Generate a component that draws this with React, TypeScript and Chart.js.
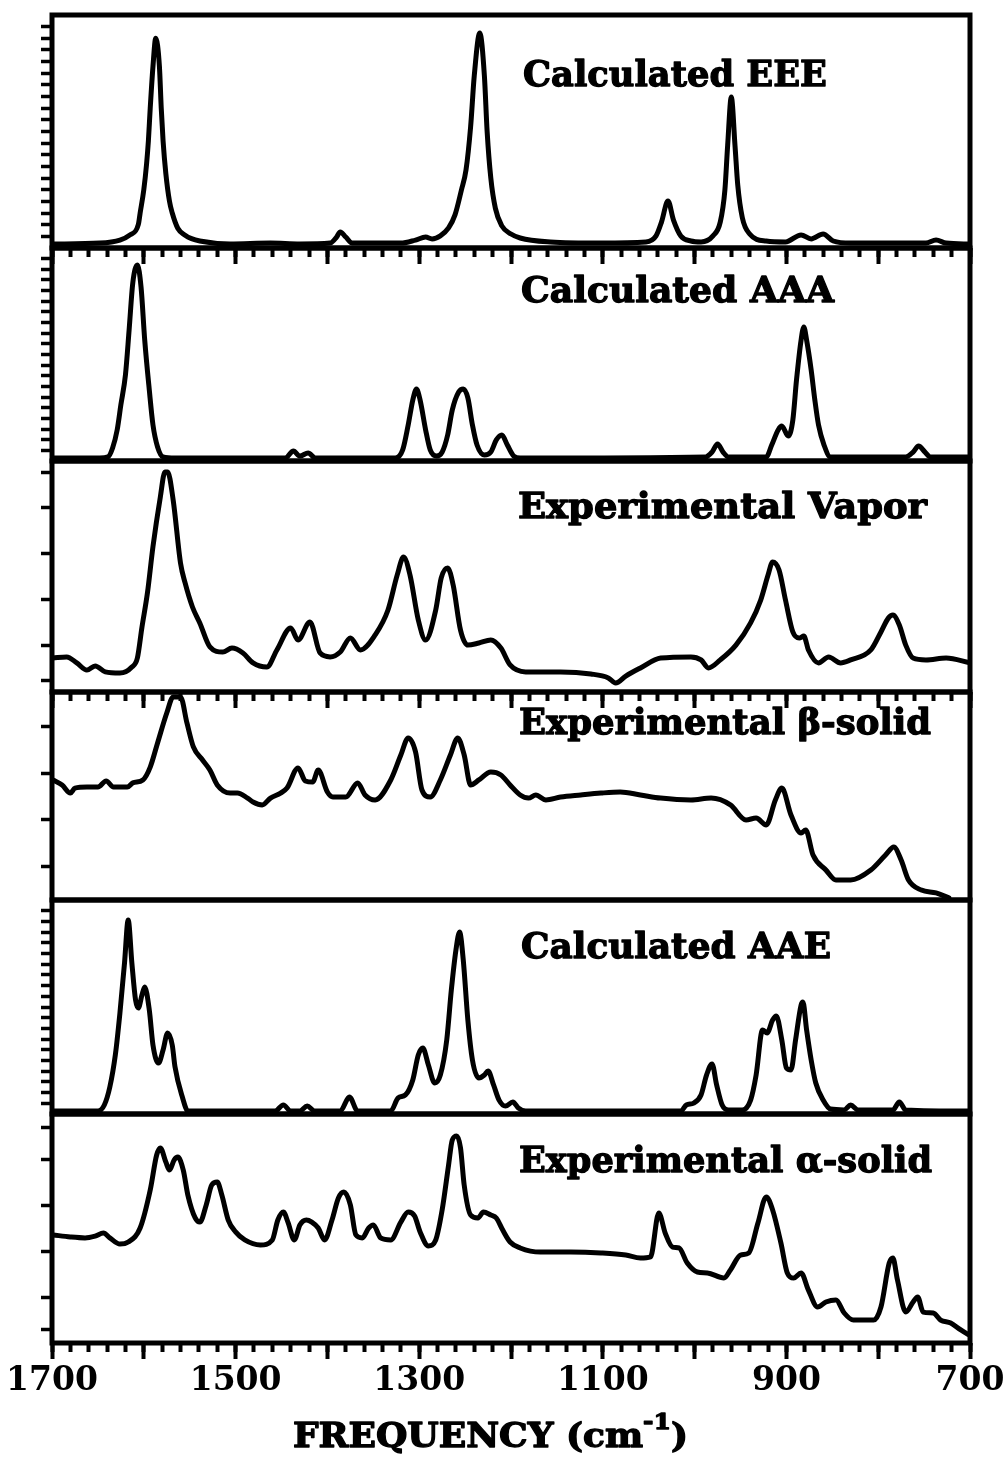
import React, { useEffect, useRef } from 'react';
import { Chart, registerables } from 'chart.js';

Chart.register(...registerables);

// ---------- DATA: [wavenumber (cm-1), relative intensity (% of panel height)] ----------
const eeeSpectrum: [number, number][] = [
  [1700, 1.7], [1648, 2.1], [1626, 3.4], [1615, 5.6], [1606, 10], [1604, 15], [1600, 25], [1597, 36],
  [1595, 46], [1593, 60], [1590, 78], [1587, 90], [1583, 78], [1581, 60], [1579, 46], [1576, 32],
  [1572, 20], [1569, 15], [1563, 8.5], [1555, 5.5], [1548, 4], [1539, 3], [1506, 1.7], [1462, 2.1],
  [1430, 1.7], [1397, 2.1], [1390, 4.7], [1386, 6.9], [1380, 4.7], [1373, 2.1], [1320, 2.1], [1304, 3.4],
  [1293, 4.7], [1286, 3.9], [1277, 5.2], [1268, 8.6], [1261, 14.2], [1254, 24.9], [1249, 33.5], [1244, 52],
  [1240, 74], [1234, 92.3], [1229, 74], [1226, 50], [1222, 30], [1217, 17], [1210, 9.5], [1200, 6],
  [1190, 4.3], [1157, 2.6], [1102, 2.1], [1053, 2.6], [1042, 5.2], [1036, 11.2], [1029, 20.2], [1023, 12],
  [1015, 5.2], [1004, 3], [993, 2.6], [980, 5.2], [972, 11.2], [967, 24.9], [964, 44], [960, 64.8],
  [956, 44], [953, 27], [948, 13], [940, 6], [922, 3], [901, 2.6], [884, 5.6], [873, 3.9],
  [860, 6], [849, 3], [830, 2.1], [748, 2.1], [737, 3.4], [726, 2.1], [700, 1.7],
];

const aaaSpectrum: [number, number][] = [
  [1700, 1.4], [1648, 1.4], [1639, 1.9], [1634, 6.1], [1629, 14.6], [1625, 26.3], [1620, 40.4], [1616, 61.5],
  [1612, 83.6], [1607, 92], [1603, 81.7], [1599, 56.8], [1594, 33.3], [1590, 16.9], [1585, 6.6], [1579, 1.9],
  [1566, 1.4], [1446, 1.4], [1437, 4.7], [1430, 2.3], [1421, 3.8], [1413, 1.4], [1326, 1.4], [1318, 5.2],
  [1312, 16.9], [1307, 28.6], [1303, 33.8], [1299, 28.6], [1293, 14.6], [1288, 5.2], [1281, 2.3], [1275, 4.2],
  [1269, 12.2], [1264, 23.9], [1257, 32.4], [1252, 33.8], [1247, 29.6], [1242, 16.9], [1237, 7.5], [1229, 2.8],
  [1222, 4.2], [1216, 9.9], [1210, 12.2], [1204, 7.5], [1197, 2.3], [1190, 1.4], [988, 1.9], [981, 4.2],
  [975, 8], [969, 4.2], [963, 1.9], [922, 1.9], [916, 7.5], [909, 14.6], [905, 16.4], [898, 11.7],
  [893, 19.2], [889, 38], [884, 56.8], [881, 62.9], [878, 56.8], [873, 42.7], [869, 28.6], [865, 16.9],
  [859, 7.5], [852, 1.9], [770, 1.9], [762, 4.2], [756, 7], [749, 4.2], [743, 1.9], [700, 1.9],
];

const vaporSpectrum: [number, number][] = [
  [1699, 14.7], [1684, 15.2], [1673, 12.6], [1662, 9.5], [1653, 11.3], [1642, 8.7], [1626, 8.2], [1613, 10.8],
  [1607, 14.7], [1602, 28.1], [1596, 43], [1590, 63], [1582, 84.4], [1577, 95.2], [1574, 95.2], [1568, 83.1],
  [1560, 55.8], [1555, 47.2], [1547, 36.8], [1539, 29.9], [1528, 19.5], [1514, 17.3], [1504, 19], [1492, 16.9],
  [1481, 12.6], [1466, 10.8], [1455, 18.2], [1440, 27.7], [1432, 22.5], [1419, 30.3], [1408, 16.9], [1397, 15.2],
  [1386, 17.3], [1375, 23.4], [1364, 18.2], [1348, 24.7], [1334, 35.5], [1324, 50.6], [1317, 58.4], [1310, 50.6],
  [1301, 31.2], [1293, 22.5], [1282, 35.5], [1276, 49.4], [1269, 53.7], [1263, 46.3], [1255, 26.8], [1247, 20.3],
  [1235, 21.2], [1222, 22.5], [1211, 19], [1201, 11.7], [1184, 8.7], [1146, 8.7], [1113, 7.8], [1094, 6.1],
  [1086, 3.9], [1075, 6.9], [1059, 10.4], [1037, 14.7], [1004, 15.2], [993, 13.9], [985, 10.4], [972, 13.9],
  [955, 20.3], [939, 29.9], [928, 39.8], [920, 50.6], [915, 56.3], [908, 52.8], [901, 39.8], [893, 26],
  [886, 23.4], [881, 24.2], [876, 18.2], [865, 12.6], [854, 15.2], [841, 12.6], [830, 13.9], [808, 18.2],
  [797, 26], [789, 32], [784, 33.3], [777, 29], [770, 20.3], [762, 14.7], [748, 13.9], [726, 14.7], [700, 12.6],
];

const betaSpectrum: [number, number][] = [
  [1699, 57.7], [1689, 55.3], [1680, 51.4], [1675, 53.8], [1662, 54.3], [1650, 54.3], [1641, 57.2], [1633, 54.3],
  [1618, 54.3], [1612, 56.3], [1601, 57.7], [1593, 63.9], [1585, 75.5], [1575, 89.9], [1568, 97.6], [1560, 97.6],
  [1553, 85.1], [1546, 73.6], [1536, 67.3], [1528, 62.5], [1520, 55.3], [1506, 51.4], [1498, 51.4], [1487, 49],
  [1481, 47.1], [1471, 45.7], [1462, 49], [1451, 51.4], [1444, 53.8], [1432, 63.5], [1424, 57.2], [1416, 56.7],
  [1410, 62.5], [1400, 51.9], [1394, 49.5], [1380, 49.5], [1367, 56.3], [1359, 50.5], [1348, 48.1], [1331, 57.7],
  [1320, 69.7], [1312, 77.9], [1304, 71.2], [1297, 52.9], [1288, 49.5], [1277, 57.7], [1266, 69.7], [1258, 77.9],
  [1251, 69.7], [1244, 55.3], [1235, 57.7], [1222, 61.5], [1211, 60.1], [1201, 55.3], [1190, 50.5], [1181, 49],
  [1173, 50.5], [1162, 48.1], [1146, 49.5], [1124, 50.5], [1102, 51.4], [1081, 51.9], [1059, 50.5], [1037, 49],
  [1004, 48.1], [982, 49], [961, 45.7], [944, 38.5], [933, 39.4], [922, 36.1], [912, 48.1], [905, 53.8],
  [895, 40.9], [884, 32.2], [879, 33.7], [871, 21.6], [857, 14.4], [846, 9.6], [830, 9.6], [808, 14.4],
  [792, 21.6], [783, 25.5], [775, 19.2], [767, 9.6], [753, 4.8], [737, 3.4], [723, 1],
];

const aaeSpectrum: [number, number][] = [
  [1700, 1.4], [1650, 1.4], [1643, 4.2], [1637, 12.6], [1631, 27.6], [1626, 47.2], [1621, 70.6], [1617, 90.7],
  [1613, 70.6], [1609, 53.3], [1606, 49.5], [1602, 55.6], [1599, 59.3], [1594, 48.6], [1590, 32.2], [1584, 23.8],
  [1579, 29.9], [1574, 37.9], [1569, 32.2], [1566, 22], [1558, 7.9], [1552, 1.4], [1457, 1.4], [1448, 4.2],
  [1440, 1.4], [1430, 1.4], [1422, 3.7], [1414, 1.4], [1386, 1.4], [1376, 7.9], [1367, 1.4], [1331, 1.4],
  [1323, 7.5], [1315, 8.9], [1307, 15.9], [1301, 27.6], [1296, 30.8], [1290, 22.9], [1283, 14.5], [1277, 18.2],
  [1270, 34.6], [1265, 57.9], [1260, 76.6], [1256, 85], [1252, 72], [1247, 43.9], [1242, 25.2], [1235, 16.8],
  [1229, 18.2], [1225, 20.1], [1219, 13.6], [1213, 6.5], [1206, 3.7], [1198, 5.6], [1192, 2.8], [1184, 1.4],
  [1015, 1.4], [1009, 4.2], [1001, 5.1], [993, 8.9], [987, 18.2], [981, 23.4], [976, 13.6], [970, 4.2],
  [963, 1.9], [948, 1.9], [939, 6.5], [933, 18.2], [926, 39.3], [921, 37.9], [915, 43.9], [911, 45.8],
  [905, 34.6], [900, 21.5], [895, 20.6], [890, 34.6], [884, 50.9], [882, 52.3], [878, 39.3], [873, 25.2],
  [868, 14.5], [860, 6.5], [852, 2.3], [837, 1.9], [830, 4.2], [822, 1.9], [784, 1.9], [777, 5.6],
  [770, 1.9], [700, 1.4],
];

const alphaSpectrum: [number, number][] = [
  [1699, 47.2], [1680, 46.3], [1664, 45.9], [1653, 46.7], [1644, 48], [1637, 45.9], [1626, 43.2], [1617, 44.1],
  [1604, 50.2], [1593, 66.8], [1586, 82.1], [1582, 85.2], [1576, 79], [1572, 75.5], [1567, 79.9], [1563, 81.2],
  [1557, 75.5], [1552, 64.6], [1544, 54.6], [1539, 52.8], [1532, 60.3], [1526, 69], [1520, 70.3], [1515, 64.6],
  [1508, 53.7], [1500, 48.5], [1490, 45], [1473, 42.8], [1460, 45], [1454, 53.7], [1448, 57.2], [1443, 52.8],
  [1436, 45], [1430, 51.5], [1423, 53.7], [1417, 52.8], [1410, 50.2], [1403, 45], [1395, 53.7], [1388, 63.3],
  [1382, 65.9], [1375, 60.3], [1369, 47.2], [1362, 45.9], [1355, 50.2], [1350, 51.5], [1342, 45.9], [1331, 45],
  [1320, 52.8], [1312, 57.2], [1305, 55.5], [1299, 48.5], [1290, 42.4], [1282, 45], [1275, 58.1], [1268, 77.7],
  [1264, 88.6], [1259, 90.4], [1255, 85.2], [1251, 69], [1244, 55.9], [1236, 54.6], [1230, 57.2], [1222, 55.9],
  [1216, 54.6], [1209, 49.3], [1201, 44.1], [1190, 41.5], [1168, 39.7], [1135, 39.7], [1102, 39.3], [1075, 38.4],
  [1059, 37.1], [1048, 37.6], [1039, 56.8], [1032, 48], [1024, 41.9], [1017, 41.5], [1008, 34.9], [997, 31],
  [986, 30.6], [968, 28.4], [961, 31.9], [950, 38.4], [941, 39.3], [931, 52.4], [922, 63.8], [915, 58.1],
  [906, 43.7], [899, 30.6], [892, 28.4], [884, 30.6], [876, 23.1], [866, 15.7], [857, 17.9], [846, 18.8],
  [837, 13.1], [827, 10], [805, 10], [797, 15.7], [788, 34.9], [784, 37.1], [779, 27.5], [770, 13.5],
  [762, 17.9], [757, 20.1], [751, 13.5], [740, 13.1], [732, 10], [721, 8.7], [710, 5.7], [701, 3.5],
];

const panelNames = [
  'Calculated EEE',
  'Calculated AAA',
  'Experimental Vapor',
  'Experimental \u03b2-solid',
  'Calculated AAE',
  'Experimental \u03b1-solid',
];

// tick positions
const xMinorTicks = [1700, 1680, 1660, 1640, 1620, 1600, 1580, 1560, 1540, 1520, 1500, 1480, 1460, 1440, 1420,
  1400, 1380, 1360, 1340, 1320, 1300, 1280, 1260, 1240, 1220, 1200, 1180, 1160, 1140, 1120, 1100, 1080, 1060,
  1040, 1020, 1000, 980, 960, 940, 920, 900, 880, 860, 840, 820, 800, 780, 760, 740, 720, 700];
const xMajorTicks = [1700, 1600, 1500, 1400, 1300, 1200, 1100, 1000, 900, 800, 700];
const xTickLabels = [1700, 1500, 1300, 1100, 900, 700];
const denseYTicks = [5, 10, 15, 20, 25, 30, 35, 40, 45, 50, 55, 60, 65, 70, 75, 80, 85, 90, 95];
const vaporYTicks = [5, 20, 40, 60, 80, 95];
const betaYTicks = [16, 38.5, 61, 83.5];
const alphaYTicks = [6, 20, 40, 60, 80, 94];
const axisTitle = 'FREQUENCY (cm';
const axisTitleSup = '-1';

// ---------- LAYOUT ----------
const PAGE_W = 1008;
const PAGE_H = 1458;
const PLOT_LEFT = 52;
const PLOT_RIGHT = 970;
const TOP_PAD = 12;
const SERIF = "'DejaVu Serif', 'Liberation Serif', serif";

type PanelLayout = {
  top: number; bottom: number; xTicks: boolean;
  label: { left: number; right: number; baseline: number };
};

const layouts: PanelLayout[] = [
  { top: 15, bottom: 248, xTicks: true, label: { left: 523, right: 827, baseline: 86 } },
  { top: 248, bottom: 461, xTicks: false, label: { left: 521, right: 834, baseline: 302 } },
  { top: 461, bottom: 692, xTicks: true, label: { left: 518, right: 927, baseline: 518 } },
  { top: 692, bottom: 900, xTicks: false, label: { left: 519, right: 931, baseline: 734 } },
  { top: 900, bottom: 1114, xTicks: false, label: { left: 521, right: 831, baseline: 958 } },
  { top: 1114, bottom: 1343, xTicks: true, label: { left: 519, right: 932, baseline: 1172 } },
];

const spectra = [eeeSpectrum, aaaSpectrum, vaporSpectrum, betaSpectrum, aaeSpectrum, alphaSpectrum];
const yTickSets = [denseYTicks, denseYTicks, vaporYTicks, betaYTicks, denseYTicks, alphaYTicks];

type Run = { text: string; size: number; dy: number };

function drawFitted(ctx: CanvasRenderingContext2D, runs: Run[], left: number, right: number, baseline: number) {
  let total = 0;
  const widths = runs.map((r) => {
    ctx.font = `bold ${r.size}px ${SERIF}`;
    const w = ctx.measureText(r.text).width;
    total += w;
    return w;
  });
  const k = (right - left) / total;
  ctx.save();
  ctx.translate(left, baseline);
  ctx.scale(k, 1);
  ctx.fillStyle = '#000';
  ctx.strokeStyle = '#000';
  ctx.lineWidth = 1.3;
  ctx.lineJoin = 'round';
  ctx.textAlign = 'left';
  ctx.textBaseline = 'alphabetic';
  let x = 0;
  runs.forEach((r, i) => {
    ctx.font = `bold ${r.size}px ${SERIF}`;
    ctx.fillText(r.text, x, r.dy);
    ctx.strokeText(r.text, x, r.dy);
    x += widths[i];
  });
  ctx.restore();
}

function Panel({ index }: { index: number }) {
  const ref = useRef<HTMLCanvasElement | null>(null);
  const lay = layouts[index];
  const last = index === layouts.length - 1;
  const extra = last ? PAGE_H - lay.bottom : 24;
  const canvasTop = lay.top - TOP_PAD;
  const canvasH = lay.bottom - lay.top + TOP_PAD + extra;

  useEffect(() => {
    const canvas = ref.current;
    if (!canvas) return;
    const points = spectra[index].map(([x, y]) => ({ x, y }));
    const yTicks = yTickSets[index];

    const textPlugin = {
      id: 'panelText' + index,
      afterDraw(chart: any) {
        const ctx = chart.ctx as CanvasRenderingContext2D;
        const a = chart.chartArea;
        ctx.save();
        ctx.strokeStyle = '#000';
        ctx.lineWidth = 5;
        ctx.strokeRect(a.left, a.top, a.right - a.left, a.bottom - a.top);
        ctx.restore();
        drawFitted(ctx, [{ text: panelNames[index], size: 36, dy: 0 }],
          lay.label.left, lay.label.right, lay.label.baseline - canvasTop);
        if (last) {
          drawFitted(ctx, [
            { text: axisTitle, size: 33, dy: 0 },
            { text: axisTitleSup, size: 23, dy: -18 },
            { text: ')', size: 33, dy: 0 },
          ], 293, 688, 1447 - canvasTop);
        }
      },
    };

    const chart = new Chart(canvas, {
      type: 'line',
      data: {
        datasets: [{
          data: points,
          borderColor: '#000',
          borderWidth: 5,
          pointRadius: 0,
          fill: false,
          cubicInterpolationMode: 'monotone',
          borderJoinStyle: 'round',
          borderCapStyle: 'round',
          xAxisID: 'x',
          yAxisID: 'y',
        }],
      },
      options: {
        animation: false,
        responsive: false,
        devicePixelRatio: 1,
        events: [],
        layout: { padding: { top: TOP_PAD, left: 0, right: PAGE_W - PLOT_RIGHT, bottom: 0 } },
        plugins: { legend: { display: false }, tooltip: { enabled: false } },
        scales: {
          x: {
            type: 'linear', min: 700, max: 1700, reverse: true, position: 'bottom', weight: 0,
            afterBuildTicks: (s: any) => { s.ticks = xMinorTicks.map((v) => ({ value: v })); },
            afterFit: (s: any) => { s.height = 0; s.paddingLeft = 0; s.paddingRight = 0; },
            grid: {
              display: lay.xTicks, drawOnChartArea: false, drawTicks: true,
              tickLength: 9, tickWidth: 4, tickColor: '#000', color: '#000',
            },
            border: { display: false },
            ticks: { display: false },
          },
          x2: {
            type: 'linear', min: 700, max: 1700, reverse: true, position: 'bottom', weight: 1,
            afterBuildTicks: (s: any) => { s.ticks = xMajorTicks.map((v) => ({ value: v })); },
            afterFit: (s: any) => { s.height = extra; s.paddingLeft = 0; s.paddingRight = 0; },
            grid: {
              display: lay.xTicks, drawOnChartArea: false, drawTicks: true,
              tickLength: 16, tickWidth: 4, tickColor: '#000', color: '#000',
            },
            border: { display: false },
            ticks: {
              display: last, autoSkip: false, maxRotation: 0, padding: 3, color: '#000',
              font: { family: SERIF, weight: 'bold', size: 33 },
              callback: (v: any) => (xTickLabels.includes(Number(v)) ? String(v) : ''),
            },
          },
          y: {
            type: 'linear', min: 0, max: 100, position: 'left',
            afterBuildTicks: (s: any) => { s.ticks = yTicks.map((v) => ({ value: v })); },
            afterFit: (s: any) => { s.width = PLOT_LEFT; },
            grid: {
              display: true, drawOnChartArea: false, drawTicks: true,
              tickLength: 11, tickWidth: 3.5, tickColor: '#000', color: '#000',
            },
            border: { display: false },
            ticks: { display: false },
          },
        },
      } as any,
      plugins: [textPlugin],
    });
    return () => chart.destroy();
  }, [index]);

  return (
    <canvas
      ref={ref}
      width={PAGE_W}
      height={canvasH}
      style={{ position: 'absolute', left: 0, top: canvasTop, width: PAGE_W, height: canvasH, display: 'block' }}
    />
  );
}

export default function App() {
  return (
    <div style={{ position: 'absolute', left: 0, top: 0, width: PAGE_W, height: PAGE_H, background: '#fff', overflow: 'hidden' }}>
      {layouts.map((_, i) => <Panel key={i} index={i} />)}
    </div>
  );
}
